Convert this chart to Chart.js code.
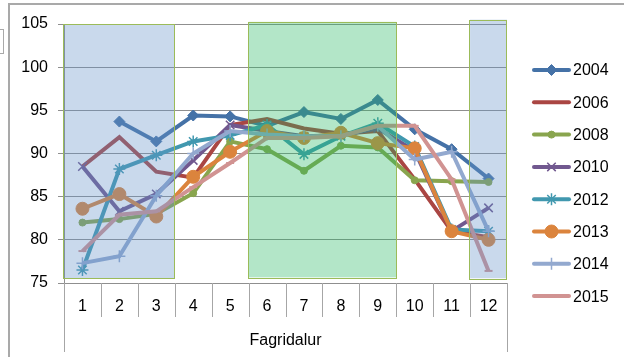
<!DOCTYPE html>
<html>
<head>
<meta charset="utf-8">
<script src="https://cdn.jsdelivr.net/npm/chart.js@4/dist/chart.umd.min.js"></script>
<style>
  html, body { margin: 0; padding: 0; background: #fff; }
  #wrap { position: relative; width: 624px; height: 357px; overflow: hidden; }
  canvas { position: absolute; left: 0; top: 0; }
  .ln { position: absolute; background: #a9a9a9; }
</style>
</head>
<body>
<div id="wrap">
  <canvas id="c" width="624" height="357"></canvas>
  <div class="ln" style="left:8px;top:3px;width:616px;height:2px;"></div>
  <div class="ln" style="left:8px;top:3px;width:2px;height:354px;"></div>
  <div class="ln" style="left:0px;top:29px;width:4px;height:1px;"></div>
  <div class="ln" style="left:0px;top:53px;width:4px;height:1px;"></div>
  <div class="ln" style="left:3px;top:29px;width:1px;height:25px;"></div>
</div>
<script>
// ---- data ----
const months = ['1','2','3','4','5','6','7','8','9','10','11','12'];
const years  = ['2004','2006','2008','2010','2012','2013','2014','2015'];
const y2004 = [null, 93.7, 91.4, 94.4, 94.3, 93.2, 94.8, 94.0, 96.2, 92.8, 90.5, 87.1];
const y2006 = [88.5, 91.9, 87.9, 87.2, 93.3, 94.0, 92.9, 92.3, 92.6, 87.0, 81.0, 80.3];
const y2008 = [82.0, 82.4, 83.0, 85.4, 91.4, 90.5, 88.0, 90.9, 90.7, 86.9, 86.8, 86.7];
const y2010 = [88.5, 83.3, 85.3, 89.2, 93.3, 92.6, 92.0, 92.1, 92.9, 90.3, 81.0, 83.7];
const y2012 = [76.5, 88.2, 89.8, 91.4, 92.1, 93.3, 89.9, 92.0, 93.5, 90.8, 81.2, 81.0];
const y2013 = [83.6, 85.3, 82.7, 87.3, 90.2, 92.6, 91.8, 92.4, 91.2, 90.6, 81.0, 80.0];
const y2014 = [77.3, 78.1, 85.1, 90.0, 92.6, 92.2, 92.0, 92.0, 93.2, 89.3, 90.2, 81.0];
const y2015 = [78.7, 82.9, 83.3, 86.1, 88.9, 91.8, 91.8, 92.0, 93.2, 93.2, 87.0, 76.4];
const yTicks = [75, 80, 85, 90, 95, 100, 105];
const axisTitle = 'Fagridalur';
// highlighted month ranges (first month, last month, top value, bottom value)
const bandFrom   = [1, 6, 12];
const bandTo     = [3, 9, 12];
const bandTop    = [105, 105.25, 105.5];
const bandBottom = [75.55, 75.65, 75.55];

// ---- styles ----
const FONT = '"Liberation Sans", Arial, sans-serif';
const bandFill = ['rgba(101,146,201,0.35)', 'rgba(38,184,98,0.35)', 'rgba(101,146,201,0.35)'];
const bandStroke = '#9bbb59';

const seriesValues = [y2004, y2006, y2008, y2010, y2012, y2013, y2014, y2015];
const seriesStyle = [
  { color: '#4572A7', pointStyle: 'rectRot', radius: 5.5, bw: 1 },
  { color: '#AA4643', pointStyle: false,     radius: 0,   bw: 0 },
  { color: '#89A54E', pointStyle: 'circle',  radius: 3.5, bw: 1 },
  { color: '#71588F', pointStyle: 'crossRot',radius: 6,   bw: 1.5 },
  { color: '#4198AF', pointStyle: 'star',    radius: 6,   bw: 1.5 },
  { color: '#DB843D', pointStyle: 'circle',  radius: 6.5, bw: 1 },
  { color: '#93A9CF', pointStyle: 'cross',   radius: 6,   bw: 1.5 },
  { color: '#D19392', pointStyle: 'line',    radius: 4,   bw: 2 }
];

const datasets = years.map((yr, i) => {
  const s = seriesStyle[i];
  return {
    label: yr,
    data: seriesValues[i],
    borderColor: s.color,
    backgroundColor: s.color,
    borderWidth: 4,
    tension: 0,
    pointStyle: s.pointStyle,
    pointRadius: s.radius,
    pointHoverRadius: s.radius,
    pointBorderWidth: s.bw,
    pointBorderColor: s.color,
    pointBackgroundColor: s.color,
    order: 20 - i,
    clip: false
  };
});

const decor = {
  id: 'decor',
  afterDatasetsDraw(chart) {
    const ctx = chart.ctx;
    const xs = chart.scales.x, ys = chart.scales.y;
    ctx.save();
    for (let b = 0; b < bandFrom.length; b++) {
      const x0 = xs.getPixelForValue(bandFrom[b] - 1 - 0.5);
      const x1 = xs.getPixelForValue(bandTo[b] - 1 + 0.5);
      const y0 = ys.getPixelForValue(bandTop[b]);
      const y1 = ys.getPixelForValue(bandBottom[b]);
      ctx.fillStyle = bandFill[b];
      ctx.fillRect(x0, y0, x1 - x0, y1 - y0);
      ctx.strokeStyle = bandStroke;
      ctx.lineWidth = 1;
      ctx.strokeRect(Math.round(x0) - 0.5, Math.round(y0) + 0.5, Math.round(x1 - x0), Math.round(y1 - y0));
    }
    ctx.restore();
  },
  afterDraw(chart) {
    const ctx = chart.ctx;
    const xs = chart.scales.x;
    const base = chart.chartArea.bottom;
    ctx.save();
    ctx.strokeStyle = '#a6a6a6';
    ctx.lineWidth = 1;
    for (let i = 0; i <= months.length; i++) {
      const bx = Math.round(xs.getPixelForValue(i - 0.5)) + 0.5;
      const len = (i === 0 || i === months.length) ? 69 : 34;
      ctx.beginPath();
      ctx.moveTo(bx, base);
      ctx.lineTo(bx, base + len);
      ctx.stroke();
    }
    ctx.fillStyle = '#000';
    ctx.font = '16px ' + FONT;
    ctx.textAlign = 'center';
    ctx.textBaseline = 'middle';
    months.forEach((m, i) => ctx.fillText(m, xs.getPixelForValue(i), base + 24));
    ctx.fillText(axisTitle, (chart.chartArea.left + chart.chartArea.right) / 2, base + 58);

    // legend
    ctx.textAlign = 'left';
    chart.data.datasets.forEach((ds, i) => {
      const ly = 70 + i * 32.3;
      ctx.strokeStyle = ds.borderColor;
      ctx.lineWidth = 4;
      ctx.lineCap = 'round';
      ctx.beginPath();
      ctx.moveTo(534, ly);
      ctx.lineTo(569, ly);
      ctx.stroke();
      ctx.lineCap = 'butt';
      if (ds.pointStyle) {
        ctx.fillStyle = ds.pointBackgroundColor;
        ctx.strokeStyle = ds.pointBorderColor;
        ctx.lineWidth = ds.pointBorderWidth;
        Chart.helpers.drawPoint(ctx, { pointStyle: ds.pointStyle, radius: ds.pointRadius, rotation: 0, borderWidth: ds.pointBorderWidth }, 551.5, ly);
      }
      ctx.fillStyle = '#000';
      ctx.fillText(ds.label, 573, ly + 1);
    });
    ctx.restore();
  }
};

new Chart(document.getElementById('c'), {
  type: 'line',
  data: { labels: months, datasets },
  options: {
    responsive: false,
    animation: false,
    devicePixelRatio: 1,
    layout: { padding: { top: 24, right: 117, bottom: 74, left: 0 } },
    plugins: { legend: { display: false }, tooltip: { enabled: false } },
    scales: {
      x: {
        type: 'category',
        offset: true,
        ticks: { display: false },
        grid: { display: false },
        border: { display: false },
        afterFit(s) { s.height = 0; }
      },
      y: {
        min: 75, max: 105,
        afterBuildTicks(s) { s.ticks = yTicks.map(v => ({ value: v })); },
        ticks: { padding: 10, color: '#000', font: { family: FONT, size: 16 } },
        grid: { color: '#8f8f8f', lineWidth: 1, tickLength: 6 },
        border: { display: true, color: '#8f8f8f' },
        afterFit(s) { s.width = 64; }
      }
    }
  },
  plugins: [decor]
});
</script>
</body>
</html>
